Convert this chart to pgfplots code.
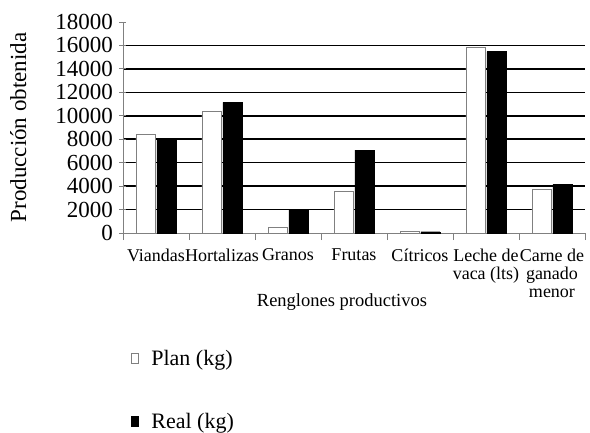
\documentclass[border=0pt]{standalone}
\usepackage{fontspec}
\setmainfont{Liberation Serif}
\usepackage{pgfplots}
\pgfplotsset{compat=1.18}
\begin{document}
\begin{tikzpicture}
\begin{axis}[
  at={(0,0)}, anchor=south west,
  scale only axis, width=462pt, height=211pt,
  ybar, bar width=19pt,
  every axis plot post/.append style={legend image code/.code={\draw[##1, line width=1.1pt] (0pt,-5pt) rectangle (7pt,5pt);}},
  xmin=-0.5, xmax=6.5, ymin=0, ymax=18000,
  axis x line=bottom, axis y line=left,
  axis line style={draw=gray, line width=0.8pt, -},
  xtick={-0.5,0.5,1.5,2.5,3.5,4.5,5.5,6.5},
  x tick label as interval,
  xticklabels={Viandas, Hortalizas, Granos, Frutas, Cítricos, {Leche de\\vaca (lts)}, {Carne de\\ganado\\menor}},
  x tick style={draw=gray, line width=0.8pt},
  xtick align=outside, major tick length=7pt,
  xticklabel style={font=\fontsize{18}{18}\selectfont, align=center, anchor=north, yshift=-5pt},
  ytick={2000,4000,...,16000},
  extra y ticks={0,18000},
  extra y tick style={grid=none},
  ymajorgrids,
  grid style={black, line width=1.5pt},
  y tick style={draw=gray, line width=0.8pt},
  ytick align=center,
  yticklabel style={font=\fontsize{23}{23}\selectfont, xshift=-3pt},
  /pgf/number format/assume math mode=true,
  scaled y ticks=false,
  yticklabel={\pgfmathprintnumber[fixed,precision=0,1000 sep={}]{\tick}},
  ylabel={Producción obtenida},
  ylabel style={font=\fontsize{23}{23}\selectfont, at={(axis description cs:-0.227,0.5)}, anchor=center},
  xlabel={Renglones productivos},
  xlabel style={font=\fontsize{18.5}{18.5}\selectfont, at={(axis description cs:0.474,-0.327)}, anchor=center},
  legend style={draw=none, fill=none, at={(axis description cs:0.011,-0.535)}, anchor=north west, font=\fontsize{22}{24}\selectfont, row sep=42pt, /tikz/every odd column/.append style={column sep=10pt}},
  legend cell align=left,
]
\addplot[fill=white, draw=gray, line width=0.6pt] coordinates {(0,8400) (1,10400) (2,470) (3,3550) (4,120) (5,15800) (6,3700)};
\addplot[fill=black, draw=black] coordinates {(0,7950) (1,11150) (2,1960) (3,7070) (4,110) (5,15480) (6,4150)};
\legend{Plan (kg), Real (kg)}
\end{axis}
\pgfresetboundingbox
\path[use as bounding box] (-123pt,-199pt) rectangle (467pt,233pt);
\end{tikzpicture}
\end{document}
